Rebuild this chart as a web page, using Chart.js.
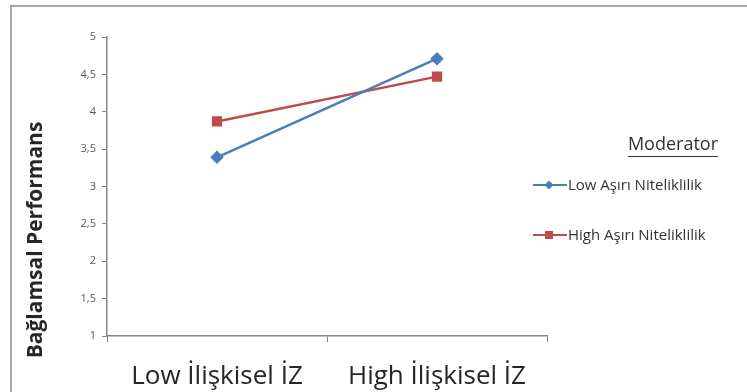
<!DOCTYPE html>
<html>
<head>
<meta charset="utf-8">
<script src="https://cdn.jsdelivr.net/npm/chart.js@4/dist/chart.umd.min.js"></script>
<style>
  body { margin: 0; background: #fff; }
  #wrap { position: relative; width: 747px; height: 392px; }
  #frame { position: absolute; left: 10px; top: 5px; right: -5px; bottom: -5px;
           border-top: 2px solid #a6a6a6; border-left: 2px solid #a6a6a6; }
  canvas { position: absolute; left: 0; top: 0; }
</style>
</head>
<body>
<div id="wrap">
  <div id="frame"></div>
  <canvas id="myChart" width="747" height="392"></canvas>
</div>
<script>
const categories = ["Low İlişkisel İZ", "High İlişkisel İZ"]
const lowValues = [3.39, 4.71]
const highValues = [3.87, 4.47]
const seriesNames = ["Low Aşırı Niteliklilik", "High Aşırı Niteliklilik"]
const yTicks = [1, 1.5, 2, 2.5, 3, 3.5, 4, 4.5, 5]
const yTitle = "Bağlamsal Performans"
const legendTitle = "Moderator"

const font = "'Open Sans', sans-serif"

// y title and legend are drawn by hand, like the original
const extras = {
    id: "extras",
    afterDraw(chart) {
        const ctx = chart.ctx
        ctx.save()
        // axis title
        ctx.translate(36, 240)
        ctx.rotate(-Math.PI / 2)
        ctx.font = "bold 21px " + font
        ctx.fillStyle = "#262626"
        ctx.textAlign = "center"
        ctx.textBaseline = "middle"
        ctx.fillText(yTitle, 0, 0)
        ctx.restore()

        ctx.save()
        ctx.font = "18px " + font
        ctx.fillStyle = "#333"
        ctx.textAlign = "right"
        ctx.textBaseline = "middle"
        ctx.fillText(legendTitle, 718, 145)
        const w = ctx.measureText(legendTitle).width
        ctx.fillRect(718 - w, 156, w, 1)

        ctx.font = "15px " + font
        ctx.textAlign = "left"
        chart.data.datasets.forEach((ds, i) => {
            const y = 185 + i * 50
            ctx.strokeStyle = ds.borderColor
            ctx.lineWidth = 2
            ctx.beginPath()
            ctx.moveTo(533, y)
            ctx.lineTo(567, y)
            ctx.stroke()
            ctx.fillStyle = ds.backgroundColor
            if (ds.pointStyle == "rect") {
                ctx.fillRect(545, y - 4, 8, 8)
            } else {
                ctx.beginPath()
                ctx.moveTo(549, y - 4.5)
                ctx.lineTo(553.5, y)
                ctx.lineTo(549, y + 4.5)
                ctx.lineTo(544.5, y)
                ctx.fill()
            }
            ctx.fillStyle = "#333"
            ctx.fillText(ds.label, 568, y + 1)
        })
        ctx.restore()
    }
}

const ctx = document.getElementById("myChart").getContext("2d")
const myChart = new Chart(ctx, {
    type: "line",
    data: {
        labels: categories,
        datasets: [{
            label: seriesNames[0],
            data: lowValues,
            borderColor: "#4a7ebb",
            backgroundColor: "#4a7ebb",
            borderWidth: 2.5,
            pointStyle: "rectRot",
            pointRadius: 5,
            pointHoverRadius: 5
        }, {
            label: seriesNames[1],
            data: highValues,
            borderColor: "#be4b48",
            backgroundColor: "#be4b48",
            borderWidth: 2.5,
            pointStyle: "rect",
            pointRadius: 5.5,
            pointHoverRadius: 5.5
        }]
    },
    options: {
        responsive: false,
        animation: false,
        layout: { padding: { left: 0, right: 200, top: 37, bottom: 0 } },
        plugins: {
            legend: { display: false },
            tooltip: { enabled: false }
        },
        scales: {
            x: {
                offset: true,
                afterFit: (scale) => { scale.height = 56 },
                grid: {
                    offset: true,
                    drawOnChartArea: false,
                    drawTicks: true,
                    tickLength: 6,
                    color: "#868686"
                },
                border: { color: "#868686", width: 1.5 },
                ticks: {
                    color: "#262626",
                    padding: 19,
                    font: { family: font, size: 26 }
                }
            },
            y: {
                min: 1,
                max: 5,
                afterFit: (scale) => { scale.width = 107 },
                afterBuildTicks: (scale) => { scale.ticks = yTicks.map(v => ({ value: v })) },
                grid: {
                    drawOnChartArea: false,
                    drawTicks: true,
                    tickLength: 5,
                    color: "#868686"
                },
                border: { color: "#868686", width: 1.5 },
                ticks: {
                    color: "#595959",
                    padding: 6,
                    font: { family: font, size: 11 },
                    callback: (v) => String(v).replace(".", ",")
                }
            }
        }
    },
    plugins: [extras]
})
</script>
</body>
</html>
